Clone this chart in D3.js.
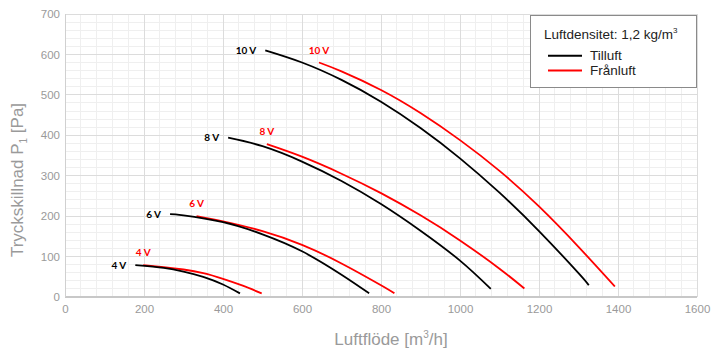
<!DOCTYPE html>
<html><head><meta charset="utf-8">
<script src="https://cdn.jsdelivr.net/npm/d3@7"></script>
<style>
html,body{margin:0;padding:0;background:#fff;}
svg{display:block;}
</style></head>
<body><svg id="c" width="713" height="351"></svg>
<script>
// ---- data ----
const xTicks = [0,200,400,600,800,1000,1200,1400,1600];
const yTicks = [0,100,200,300,400,500,600,700];
const voltLabels = ["4 V","6 V","8 V","10 V"];
// Tilluft (black) [flow m3/h, pressure Pa]
const tilluft4  = [[178,79],[250,72],[300,63],[350,50],[400,31],[443,9]];
const tilluft6  = [[266,205],[300,202],[400,185],[500,155],[600,113],[700,55],[770,9]];
const tilluft8  = [[413,394],[500,373],[600,335],[700,287],[800,230],[900,164],[1000,90],[1078,20]];
const tilluft10 = [[507,610],[600,580],[700,537],[800,483],[900,418],[1000,343],[1100,258],[1200,163],[1300,59],[1326,29]];
// Frånluft (red)
const franluft4  = [[198,79],[250,74],[300,68],[350,59],[400,45],[450,28],[498,9]];
const franluft6  = [[333,200],[400,187],[500,163],[600,129],[700,83],[800,29],[834,9]];
const franluft8  = [[511,378],[600,347],[700,305],[800,257],[900,202],[1000,140],[1100,70],[1163,21]];
const franluft10 = [[643,580],[700,558],[800,512],[900,455],[1000,388],[1100,312],[1200,224],[1300,124],[1392,26]];
const tilluftSeries = [tilluft4, tilluft6, tilluft8, tilluft10];
const franluftSeries = [franluft4, franluft6, franluft8, franluft10];

// ---- layout ----
const svg = d3.select("#c");
const x = d3.scaleLinear().domain([0,1600]).range([65,697]);
const y = d3.scaleLinear().domain([0,700]).range([297,14]);
const gridMinor = "#efefef", gridMajor = "#dcdcdc", tickCol = "#9a9a9a";
const font = "'Liberation Sans', Arial, sans-serif";

// grid
const g = svg.append("g");
g.selectAll("line.vx").data(d3.range(0,1601,40)).join("line")
  .attr("x1",d=>x(d)).attr("x2",d=>x(d)).attr("y1",y(0)).attr("y2",y(700))
  .attr("stroke",gridMinor).attr("stroke-width",1).attr("shape-rendering","crispEdges");
g.selectAll("line.hy").data(d3.range(0,701,20)).join("line")
  .attr("y1",d=>y(d)).attr("y2",d=>y(d)).attr("x1",x(0)).attr("x2",x(1600))
  .attr("stroke",gridMinor).attr("stroke-width",1).attr("shape-rendering","crispEdges");
g.selectAll("line.mx").data(xTicks).join("line")
  .attr("x1",d=>x(d)).attr("x2",d=>x(d)).attr("y1",y(0)).attr("y2",y(700))
  .attr("stroke",gridMajor).attr("shape-rendering","crispEdges");
g.selectAll("line.my").data(yTicks).join("line")
  .attr("y1",d=>y(d)).attr("y2",d=>y(d)).attr("x1",x(0)).attr("x2",x(1600))
  .attr("stroke",gridMajor).attr("shape-rendering","crispEdges");
// axis lines
svg.append("line").attr("x1",x(0)).attr("x2",x(1600)).attr("y1",y(0)).attr("y2",y(0))
  .attr("stroke","#c8c8c8").attr("stroke-width",1.5).attr("shape-rendering","crispEdges");
svg.append("line").attr("x1",x(0)).attr("x2",x(0)).attr("y1",y(0)).attr("y2",y(700))
  .attr("stroke","#d0d0d0").attr("shape-rendering","crispEdges");

// tick labels via axes
const xAxis = d3.axisBottom(x).tickValues(xTicks).tickSize(0).tickPadding(0).tickFormat(d3.format("d"));
const xa = svg.append("g").attr("transform",`translate(0,${y(0)})`).call(xAxis);
xa.select(".domain").remove();
xa.selectAll("text").attr("y",8).attr("dy","0.71em").attr("fill",tickCol)
  .attr("font-family",font).attr("font-size",11.5);
const yAxis = d3.axisLeft(y).tickValues(yTicks).tickSize(0).tickPadding(5).tickFormat(d3.format("d"));
const ya = svg.append("g").attr("transform",`translate(${x(0)},0)`).call(yAxis);
ya.select(".domain").remove();
ya.selectAll("text").attr("fill",tickCol).attr("font-family",font).attr("font-size",11.5);

// axis titles
const xt = svg.append("text").attr("x",391).attr("y",345).attr("text-anchor","middle")
  .attr("fill",tickCol).attr("font-family",font).attr("font-size",17);
xt.append("tspan").text("Luftflöde [m");
xt.append("tspan").text("3").attr("font-size",10).attr("dy",-7);
xt.append("tspan").text("/h]").attr("dy",7);
const yt = svg.append("text").attr("transform","translate(23,180) rotate(-90)").attr("text-anchor","middle")
  .attr("fill",tickCol).attr("font-family",font).attr("font-size",17);
yt.append("tspan").text("Tryckskillnad  P");
yt.append("tspan").text("1").attr("font-size",10).attr("dy",4);
yt.append("tspan").text(" [Pa]").attr("dy",-4);

// curves
const line = d3.line().x(d=>x(d[0])).y(d=>y(d[1])).curve(d3.curveNatural);
svg.append("g").selectAll("path").data(franluftSeries).join("path")
  .attr("d",line).attr("fill","none").attr("stroke","#ff0000").attr("stroke-width",1.8);
svg.append("g").selectAll("path").data(tilluftSeries).join("path")
  .attr("d",line).attr("fill","none").attr("stroke","#000").attr("stroke-width",1.8);

// curve labels
const lf = "Lato, 'Open Sans', sans-serif";
svg.append("g").selectAll("text").data(tilluftSeries).join("text")
  .attr("x",d=>x(d[0][0])-9).attr("y",d=>y(d[0][1])).attr("dy","0.35em")
  .attr("text-anchor","end").attr("font-family",lf).attr("font-weight","bold").attr("font-size",10)
  .attr("fill","#000").text((d,i)=>voltLabels[i]);
svg.append("g").selectAll("text").data(franluftSeries).join("text")
  .attr("x",d=>x(d[0][0])).attr("y",d=>y(d[0][1])-12.5).attr("dy","0.35em")
  .attr("text-anchor","middle").attr("font-family",lf).attr("font-weight","bold").attr("font-size",10)
  .attr("fill","#ff0000").text((d,i)=>voltLabels[i]);

// legend
const lg = svg.append("g");
lg.append("rect").attr("x",530.5).attr("y",15.5).attr("width",166).attr("height",72)
  .attr("fill","#fff").attr("stroke","#8a8a8a").attr("stroke-width",1);
const lt = lg.append("text").attr("x",544).attr("y",39).attr("font-family",font)
  .attr("font-size",13.5).attr("fill","#222");
lt.append("tspan").text("Luftdensitet: 1,2 kg/m");
lt.append("tspan").text("3").attr("font-size",8).attr("dy",-6);
const items = [{name:"Tilluft",color:"#000",yy:55.7},{name:"Frånluft",color:"#ff0000",yy:70.5}];
items.forEach(it=>{
  lg.append("line").attr("x1",548).attr("x2",582).attr("y1",it.yy).attr("y2",it.yy)
    .attr("stroke",it.color).attr("stroke-width",2);
  lg.append("text").attr("x",590).attr("y",it.yy).attr("dy","0.35em").attr("font-family",font)
    .attr("font-size",13.5).attr("fill","#222").text(it.name);
});
</script></body></html>
